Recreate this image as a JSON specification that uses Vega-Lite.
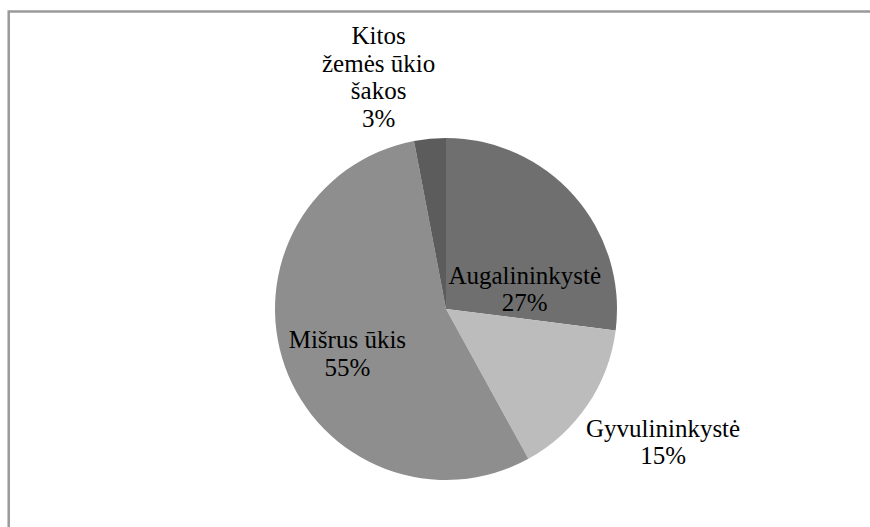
{
  "$schema": "https://vega.github.io/schema/vega-lite/v6.json",
  "autosize": "none",
  "width": 874.6,
  "height": 595,
  "padding": {"left": 8.7, "top": 11.5, "right": -13.3, "bottom": -79.5},
  "background": "white",
  "config": {"font": "Liberation Serif"},
  "view": {"stroke": "#9a9a9a", "strokeWidth": 2.5, "fill": "white"},
  "data": {
    "values": [
      {"cat": "Augalininkystė", "share": 27, "rank": 1, "label": "Augalininkystė\n27%"},
      {"cat": "Gyvulininkystė", "share": 15, "rank": 2, "label": "Gyvulininkystė\n15%"},
      {"cat": "Mišrus ūkis", "share": 55, "rank": 3, "label": "Mišrus ūkis\n55%"},
      {"cat": "Kitos žemės ūkio šakos", "share": 3, "rank": 4, "label": "Kitos\nžemės ūkio\nšakos\n3%"}
    ]
  },
  "encoding": {
    "theta": {"field": "share", "type": "quantitative", "stack": true},
    "order": {"field": "rank", "type": "quantitative"}
  },
  "layer": [
    {
      "mark": {"type": "arc", "outerRadius": 171},
      "encoding": {
        "color": {
          "field": "cat",
          "type": "nominal",
          "scale": {
            "domain": ["Augalininkystė", "Gyvulininkystė", "Mišrus ūkis", "Kitos žemės ūkio šakos"],
            "range": ["#6f6f6f", "#bcbcbc", "#8e8e8e", "#5c5c5c"]
          },
          "legend": null
        }
      }
    },
    {
      "mark": {"type": "text", "radius": 73, "dx": 24, "dy": 15, "font": "Liberation Serif", "fontSize": 25, "lineHeight": 27, "lineBreak": "\n", "color": "#000000"},
      "encoding": {"text": {"condition": {"test": "datum.cat === 'Augalininkystė'", "field": "label"}, "value": ""}}
    },
    {
      "mark": {"type": "text", "radius": 254, "dx": 7, "dy": -23, "font": "Liberation Serif", "fontSize": 25, "lineHeight": 27, "lineBreak": "\n", "color": "#000000"},
      "encoding": {"text": {"condition": {"test": "datum.cat === 'Gyvulininkystė'", "field": "label"}, "value": ""}}
    },
    {
      "mark": {"type": "text", "radius": 108, "dx": 3, "dy": -6, "font": "Liberation Serif", "fontSize": 25, "lineHeight": 28, "lineBreak": "\n", "color": "#000000"},
      "encoding": {"text": {"condition": {"test": "datum.cat === 'Mišrus ūkis'", "field": "label"}, "value": ""}}
    },
    {
      "mark": {"type": "text", "radius": 238, "dx": -45, "dy": -36, "font": "Liberation Serif", "fontSize": 25, "lineHeight": 27.7, "lineBreak": "\n", "color": "#000000"},
      "encoding": {"text": {"condition": {"test": "datum.cat === 'Kitos žemės ūkio šakos'", "field": "label"}, "value": ""}}
    }
  ]
}
